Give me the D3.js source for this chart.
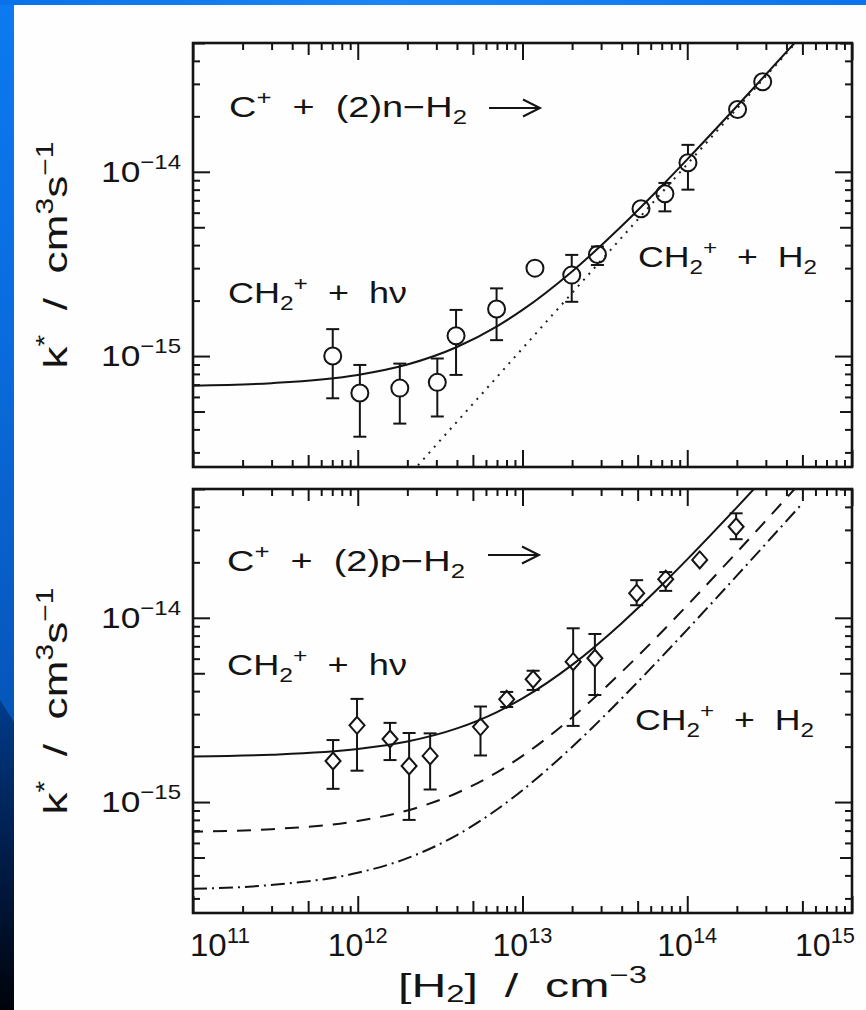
<!DOCTYPE html>
<html>
<head>
<meta charset="utf-8">
<script src="https://cdn.jsdelivr.net/npm/d3@7"></script>
<style>
html, body { margin: 0; padding: 0; background: #fff; overflow: hidden; }
svg { display: block; }
text { font-family: "Liberation Sans", Arial, Helvetica, sans-serif; fill: #141414; }
</style>
</head>
<body>
<script>
// ---------- measured rate coefficients ----------
// C+ + n-H2 (circles)
const nDensity  = [7.05e11, 1.03e12, 1.80e12, 3.04e12, 3.95e12, 6.96e12, 1.19e13, 1.99e13, 2.85e13, 5.24e13, 7.32e13, 1.01e14, 2.02e14, 2.87e14];
const nRate     = [1.0e-15, 6.3e-16, 6.7e-16, 7.2e-16, 1.29e-15, 1.8e-15, 3.0e-15, 2.75e-15, 3.56e-15, 6.3e-15, 7.6e-15, 1.12e-14, 2.18e-14, 3.08e-14];
const nRateLow  = [5.9e-16, 3.65e-16, 4.3e-16, 4.7e-16, 7.9e-16, 1.22e-15, null, 1.97e-15, 3.12e-15, null, 6.1e-15, 8.0e-15, null, null];
const nRateHigh = [1.4e-15, 8.95e-16, 9.1e-16, 9.7e-16, 1.78e-15, 2.33e-15, null, 3.54e-15, 3.93e-15, null, 8.7e-15, 1.4e-14, null, null];

// C+ + p-H2 (diamonds)
const pDensity  = [7.08e11, 9.9e11, 1.57e12, 2.05e12, 2.75e12, 5.56e12, 8.02e12, 1.16e13, 2.03e13, 2.75e13, 4.93e13, 7.40e13, 1.19e14, 1.98e14];
const pRate     = [1.67e-15, 2.61e-15, 2.20e-15, 1.57e-15, 1.78e-15, 2.56e-15, 3.61e-15, 4.64e-15, 5.78e-15, 6.03e-15, 1.36e-14, 1.62e-14, 2.06e-14, 3.12e-14];
const pRateLow  = [1.18e-15, 1.48e-15, 1.69e-15, 8.0e-16, 1.17e-15, 1.79e-15, 3.28e-15, 4.06e-15, 2.59e-15, 3.81e-15, 1.17e-14, 1.40e-14, null, 2.67e-14];
const pRateHigh = [2.17e-15, 3.63e-15, 2.69e-15, 2.37e-15, 2.36e-15, 3.30e-15, 3.96e-15, 5.16e-15, 8.77e-15, 8.17e-15, 1.60e-14, 1.77e-14, null, 3.69e-14];

// ---------- fitted curves, sampled along [H2] ----------
const curveDensity = [1e11, 3e11, 1e12, 2e12, 4e12, 7e12, 1e13, 2e13, 4e13, 7e13, 1e14, 2e14, 5e14];
const fitN         = [6.91e-16, 7.13e-16, 7.9e-16, 9.0e-16, 1.12e-15, 1.45e-15, 1.78e-15, 2.88e-15, 5.08e-15, 8.38e-15, 1.168e-14, 2.268e-14, 5.568e-14];
const fitP         = [1.769e-15, 1.807e-15, 1.94e-15, 2.13e-15, 2.51e-15, 3.08e-15, 3.65e-15, 5.55e-15, 9.35e-15, 1.505e-14, 2.075e-14, 3.975e-14, 9.675e-14];
const fitPLow      = [3.38e-16, 3.55e-16, 4.13e-16, 4.96e-16, 6.62e-16, 9.11e-16, 1.16e-15, 1.99e-15, 3.65e-15, 6.14e-15, 8.63e-15, 1.693e-14, 4.183e-14];
// pure three-body term (dotted, upper panel)
const ternaryDensity = [2e12, 5e14];
const ternaryRate    = [2.2e-16, 5.5e-14];

// ---------- axis ticks ----------
const xMajor = [1e11, 1e12, 1e13, 1e14, 1e15];
const xExponents = ["11", "12", "13", "14", "15"];
const yMajor = [1e-15, 1e-14];
const yExponents = ["\u221215", "\u221214"];
const xDomain = [1e11, 1e15];
const yDomain = [2.5e-16, 5e-14];

// ---------- layout ----------
const W = 866, H = 1010;
const L = 193, R = 852;
const panels = [
  { top: 43,  bottom: 467 },
  { top: 489, bottom: 913 }
];

const svg = d3.select("body").append("svg").attr("width", W).attr("height", H);
const defs = svg.append("defs");

// slide background
const gSide = defs.append("linearGradient").attr("id", "sideBlue")
  .attr("x1", 0).attr("y1", 0).attr("x2", 0).attr("y2", 1);
[[0, "#0c7af0"], [0.35, "#0a6bdc"], [0.7, "#0656bb"], [1, "#0549a3"]]
  .forEach(([o, c]) => gSide.append("stop").attr("offset", o).attr("stop-color", c));
const gDark = defs.append("linearGradient").attr("id", "sideDark")
  .attr("x1", 0).attr("y1", 0).attr("x2", 0).attr("y2", 1);
[[0, "#003c8c"], [0.35, "#00255c"], [1, "#00030a"]]
  .forEach(([o, c]) => gDark.append("stop").attr("offset", o).attr("stop-color", c));
const gTop = defs.append("linearGradient").attr("id", "topBlue")
  .attr("x1", 0).attr("y1", 0).attr("x2", 1).attr("y2", 0);
[[0, "#0a72e8"], [0.45, "#1a86f4"], [1, "#0a74ec"]]
  .forEach(([o, c]) => gTop.append("stop").attr("offset", o).attr("stop-color", c));

svg.append("rect").attr("width", W).attr("height", H).attr("fill", "url(#sideBlue)");
svg.append("path").attr("d", "M0,700 L14,722 L14,1010 L0,1010 Z").attr("fill", "url(#sideDark)");
svg.append("rect").attr("x", 0).attr("y", 0).attr("width", W).attr("height", 5).attr("fill", "url(#topBlue)");
svg.append("rect").attr("x", 14).attr("y", 5).attr("width", W - 14).attr("height", H - 5).attr("fill", "#fefefe");

// ---------- helpers ----------
// text built from [string, kind] parts; kind 1 = superscript, -1 = subscript
function rich(parent, parts, size, subShift = 0.25) {
  const t = parent.append("text").attr("font-size", size)
    .attr("xml:space", "preserve").style("white-space", "pre");
  let cur = 0;
  parts.forEach(([s, k]) => {
    const off = k === 1 ? -0.42 * size : k === -1 ? subShift * size : 0;
    t.append("tspan").attr("dy", off - cur)
      .attr("font-size", k === 0 ? size : 0.68 * size).text(s);
    cur = off;
  });
  return t;
}
// stretch a text horizontally so it spans x0..x1 with its baseline at y
function place(t, x0, x1, y) {
  const b = t.node().getBBox();
  const sx = (x1 - x0) / b.width;
  t.attr("transform", `translate(${x0},${y}) scale(${sx},1) translate(${-b.x},0)`);
}
function tickLen(v) {
  const m = Math.round(v / Math.pow(10, Math.floor(Math.log10(v) + 1e-9)));
  return m === 1 ? 17 : m === 5 ? 12 : 7;
}
function logTicks(lo, hi) {
  const out = [];
  for (let e = Math.floor(Math.log10(lo)); e <= Math.ceil(Math.log10(hi)); e++)
    for (let m = 1; m <= 9; m++) {
      const v = m * Math.pow(10, e);
      if (v >= lo * 0.999 && v <= hi * 1.001) out.push(v);
    }
  return out;
}

const x = d3.scaleLog().domain(xDomain).range([L, R]);
const xTicks = logTicks(xDomain[0], xDomain[1]);
const yTicks = logTicks(yDomain[0], yDomain[1]);

const line = (yS) => d3.line().x(d => x(d[0])).y(d => yS(d[1])).curve(d3.curveMonotoneX);
const zip = (a, b) => a.map((v, i) => [v, b[i]]);

panels.forEach((p, idx) => {
  const y = d3.scaleLog().domain(yDomain).range([p.bottom, p.top]);
  const g = svg.append("g");
  const clipId = "clip" + idx;
  defs.append("clipPath").attr("id", clipId).append("rect")
    .attr("x", L).attr("y", p.top).attr("width", R - L).attr("height", p.bottom - p.top);

  // ticks on all four sides, pointing inward
  const axes = [
    { ax: d3.axisBottom(x).tickValues(xTicks), tr: `translate(0,${p.bottom})`, dir: -1, att: "y2" },
    { ax: d3.axisTop(x).tickValues(xTicks), tr: `translate(0,${p.top})`, dir: 1, att: "y2" },
    { ax: d3.axisLeft(y).tickValues(yTicks), tr: `translate(${L},0)`, dir: 1, att: "x2" },
    { ax: d3.axisRight(y).tickValues(yTicks), tr: `translate(${R},0)`, dir: -1, att: "x2" }
  ];
  axes.forEach(a => {
    const ag = g.append("g").attr("transform", a.tr).call(a.ax.tickFormat(""));
    ag.select(".domain").remove();
    ag.selectAll(".tick text").remove();
    ag.selectAll(".tick line").attr(a.att, d => a.dir * tickLen(d))
      .attr("stroke", "#141414").attr("stroke-width", 2);
  });

  // frame
  g.append("rect").attr("x", L).attr("y", p.top).attr("width", R - L).attr("height", p.bottom - p.top)
    .attr("fill", "none").attr("stroke", "#141414").attr("stroke-width", 2.6);

  // y tick labels
  yMajor.forEach((v, i) => {
    const t = rich(g, [["10", 0], [yExponents[i], 1]], 30);
    place(t, 101, 181, y(v) + 10);
  });

  const plot = g.append("g").attr("clip-path", `url(#${clipId})`);
  const density = idx === 0 ? nDensity : pDensity;
  const rate = idx === 0 ? nRate : pRate;
  const lo = idx === 0 ? nRateLow : pRateLow;
  const hi = idx === 0 ? nRateHigh : pRateHigh;

  // curves
  if (idx === 0) {
    plot.append("path").attr("d", line(y)(zip(ternaryDensity, ternaryRate)))
      .attr("fill", "none").attr("stroke", "#222").attr("stroke-width", 2).attr("stroke-dasharray", "2,6");
    plot.append("path").attr("d", line(y)(zip(curveDensity, fitN)))
      .attr("fill", "none").attr("stroke", "#141414").attr("stroke-width", 2);
  } else {
    plot.append("path").attr("d", line(y)(zip(curveDensity, fitPLow)))
      .attr("fill", "none").attr("stroke", "#141414").attr("stroke-width", 2).attr("stroke-dasharray", "14,5,2,5");
    plot.append("path").attr("d", line(y)(zip(curveDensity, fitN)))
      .attr("fill", "none").attr("stroke", "#141414").attr("stroke-width", 2).attr("stroke-dasharray", "14,10")
      .attr("stroke-dashoffset", -20);
    plot.append("path").attr("d", line(y)(zip(curveDensity, fitP)))
      .attr("fill", "none").attr("stroke", "#141414").attr("stroke-width", 2);
  }

  // error bars and markers
  const mr = 8.5;
  density.forEach((n, i) => {
    const cx = x(n), cy = y(rate[i]);
    if (hi[i] != null) {
      const yh = y(hi[i]), yl = y(lo[i]);
      const segs = [];
      if (yh < cy - mr) segs.push([yh, cy - mr]);
      if (yl > cy + mr) segs.push([cy + mr, yl]);
      segs.forEach(s => plot.append("line").attr("x1", cx).attr("x2", cx).attr("y1", s[0]).attr("y2", s[1])
        .attr("stroke", "#141414").attr("stroke-width", 2));
      [yh, yl].forEach(yy => plot.append("line").attr("x1", cx - 6.5).attr("x2", cx + 6.5)
        .attr("y1", yy).attr("y2", yy).attr("stroke", "#141414").attr("stroke-width", 2));
    }
    if (idx === 0) {
      plot.append("circle").attr("cx", cx).attr("cy", cy).attr("r", mr)
        .attr("fill", "none").attr("stroke", "#141414").attr("stroke-width", 2);
    } else {
      plot.append("path")
        .attr("d", `M${cx},${cy - 8.5}L${cx + 7.5},${cy}L${cx},${cy + 8.5}L${cx - 7.5},${cy}Z`)
        .attr("fill", "none").attr("stroke", "#141414").attr("stroke-width", 2);
    }
  });

  // y-axis title
  const yt = rich(g, [["k", 0], ["*", 1], ["  /  cm", 0], ["3", 1], ["s", 0], ["\u22121", 1]], 34);
  const b = yt.node().getBBox();
  const len = 227;
  const cyMid = (p.top + p.bottom) / 2;
  yt.attr("transform", `translate(67,${cyMid + len / 2}) rotate(-90) scale(${len / b.width},1) translate(${-b.x},0)`);
});

// ---------- annotations ----------
function arrow(x0, x1, yy) {
  svg.append("line").attr("x1", x0).attr("x2", x1 - 1).attr("y1", yy).attr("y2", yy)
    .attr("stroke", "#141414").attr("stroke-width", 2);
  svg.append("path").attr("d", `M${x1 - 17},${yy - 8.5}L${x1},${yy}L${x1 - 17},${yy + 8.5}`)
    .attr("fill", "none").attr("stroke", "#141414").attr("stroke-width", 2);
}
const reactN = [["C", 0], ["+", 1], ["  +  (2)n\u2212H", 0], ["2", -1]];
const reactP = [["C", 0], ["+", 1], ["  +  (2)p\u2212H", 0], ["2", -1]];
const prodRad = [["CH", 0], ["2", -1], ["+", 1], ["  +  h\u03bd", 0]];
const prodTer = [["CH", 0], ["2", -1], ["+", 1], ["  +  H", 0], ["2", -1]];

place(rich(svg, reactN, 29), 229, 467, 117);
arrow(489, 540, 108);
place(rich(svg, prodRad, 29), 228, 407, 303);
place(rich(svg, prodTer, 29), 638, 817, 267);

place(rich(svg, reactP, 29), 227, 465, 571);
arrow(488, 539, 555);
place(rich(svg, prodRad, 29), 227, 407, 675);
place(rich(svg, prodTer, 29), 635, 814, 730);

// ---------- x tick labels (lower panel) ----------
xMajor.forEach((v, i) => {
  const t = rich(svg, [["10", 0], [xExponents[i], 1]], 32);
  const w = 60;
  let x0 = x(v) - w / 2;
  if (i === 0) x0 = 190;
  if (i === xMajor.length - 1) x0 = 795;
  place(t, x0, x0 + w, 956);
});

// x-axis title
place(rich(svg, [["[H", 0], ["2", -1], ["]  /  cm", 0], ["\u22123", 1]], 34, 0.16), 398, 647, 997);
</script>
</body>
</html>
